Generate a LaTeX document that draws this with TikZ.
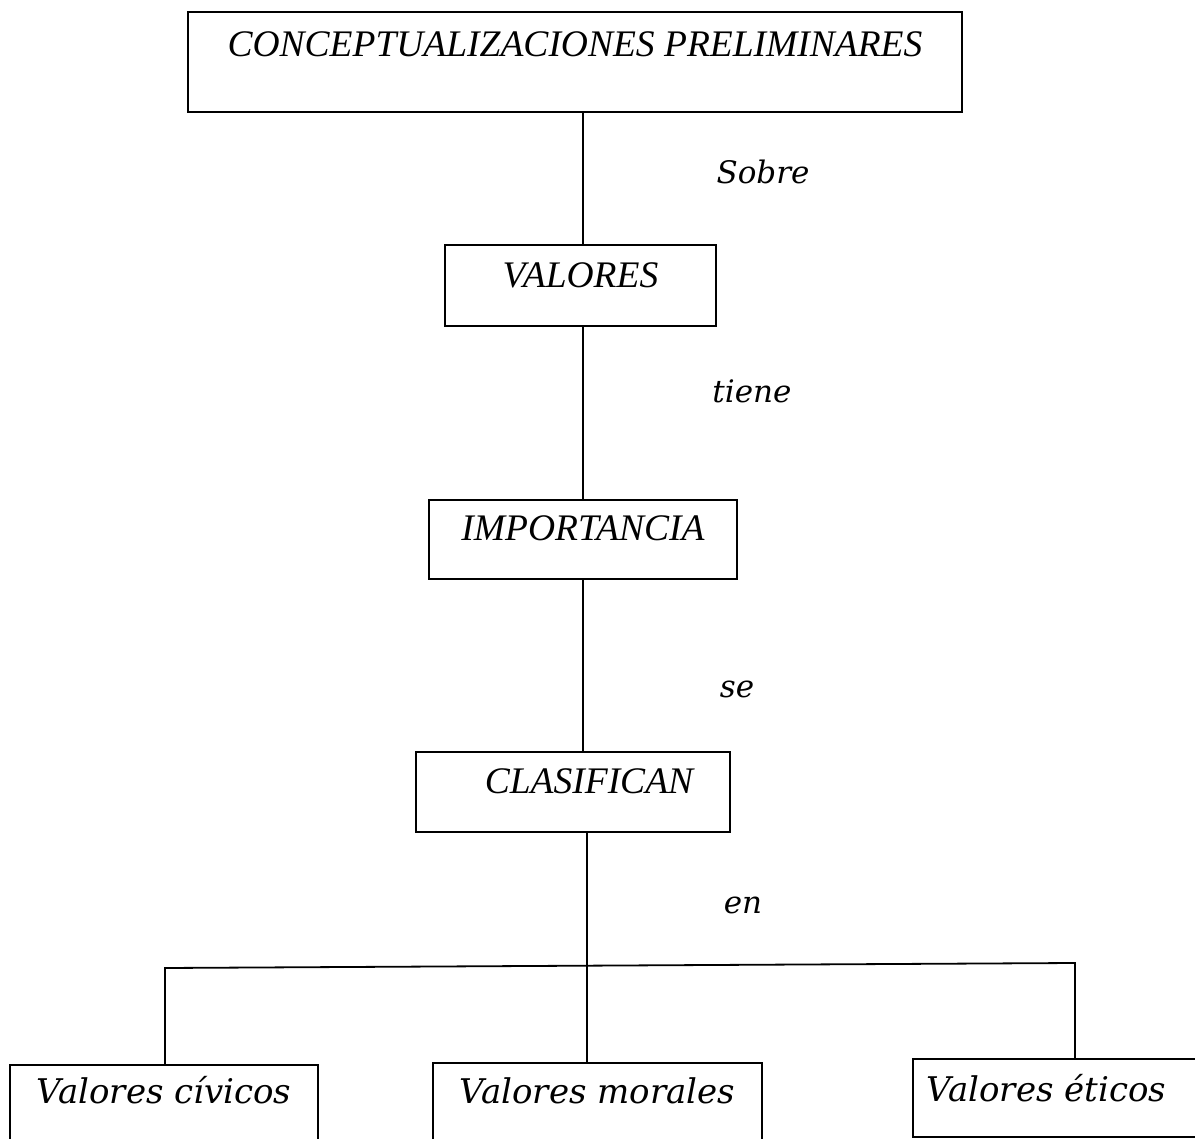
\documentclass[tikz,border=0pt]{standalone}
\usepackage{fontspec}
\setmainfont{Liberation Serif}
\newfontfamily\lblfont{DejaVu Serif}
\begin{document}
\begin{tikzpicture}[x=1pt,y=-1pt,
  line width=1.8pt,
  capbox/.style={draw, line width=2pt, inner sep=0pt, font=\fontsize{37.5}{40}\selectfont\itshape},
  lowbox/.style={draw, line width=2pt, inner sep=0pt, font=\lblfont\fontsize{34}{37}\selectfont\itshape},
  lbl/.style={anchor=base, inner sep=0pt, font=\lblfont\fontsize{31}{34}\selectfont\itshape}]
\useasboundingbox (0,0) rectangle (1195,1139);
\clip (0,0) rectangle (1195,1139);
% boxes
\node[capbox, minimum width=774pt, text height=45pt, text depth=55pt] (top) at (575,62) {CONCEPTUALIZACIONES PRELIMINARES};
\node[capbox, minimum width=271pt, text height=43pt, text depth=38pt] (val) at (580.5,285.5) {VALORES};
\node[capbox, minimum width=308pt, text height=40pt, text depth=39pt] (imp) at (583,539.5) {IMPORTANCIA};
\node[capbox, minimum width=314pt, text height=41pt, text depth=39pt] (cla) at (573,792) {\hspace*{32pt}CLASIFICAN};
\node[lowbox, minimum width=308pt, text height=38pt, text depth=47pt] (civ) at (164,1107.5) {Valores cívicos};
\node[lowbox, minimum width=329pt, text height=40pt, text depth=47pt] (mor) at (597.5,1106.5) {Valores morales};
\node[lowbox, minimum width=287pt, text height=42pt, text depth=36pt] (eti) at (1056.5,1098) {Valores éticos\hspace*{20pt}};
% connector coordinates
\coordinate (bl) at (165,968);
\coordinate (bm) at (587,966);
\coordinate (br) at (1075,963);
% connectors
\draw (top.south -| imp.north) -- (val.north -| imp.north);
\draw (val.south -| imp.north) -- (imp.north);
\draw (imp.south) -- (cla.north -| imp.south);
\draw (cla.south -| bm) -- (mor.north -| bm);
\draw (civ.north -| bl) -- (bl) -- (br) -- (eti.north -| br);
% labels
\node[lbl] (l1) at (763,184) {Sobre};
\node[lbl] (l2) at (752,403) {tiene};
\node[lbl] (l3) at (737,697) {se};
\node[lbl] (l4) at (743,913) {en};
\end{tikzpicture}
\end{document}
